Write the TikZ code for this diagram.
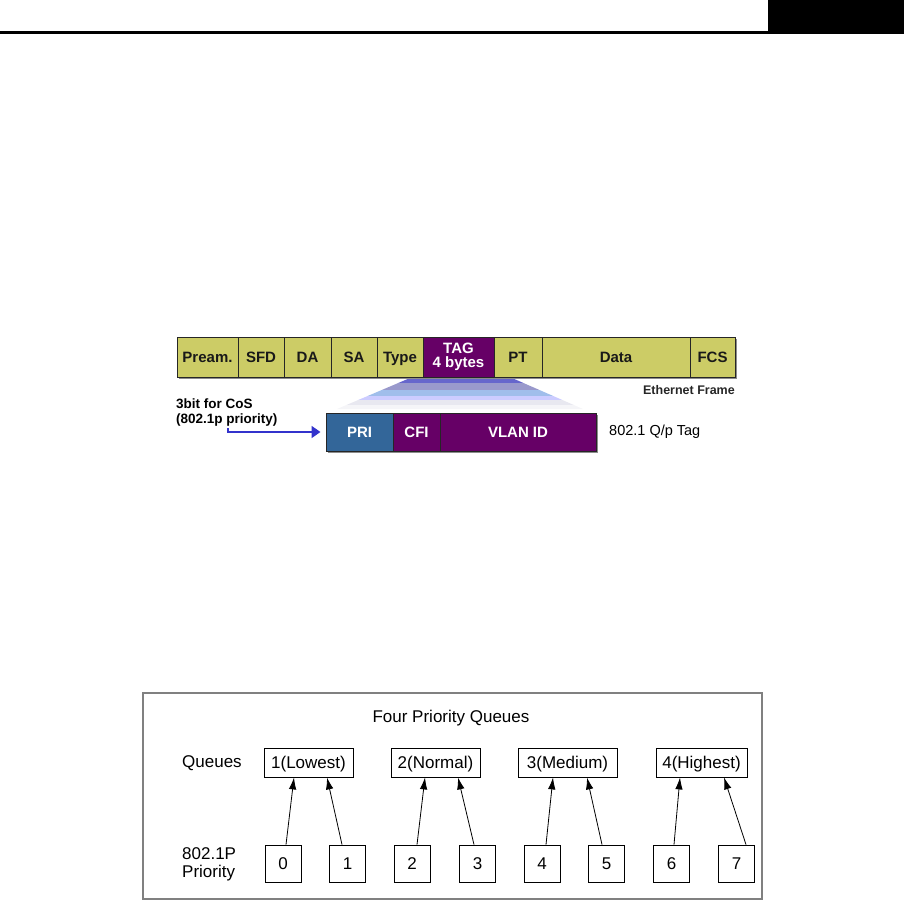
\documentclass[tikz,border=0pt]{standalone}
\usepackage{fontspec}
\setmainfont{Liberation Sans}
\usetikzlibrary{arrows.meta}
\definecolor{khaki}{HTML}{CCCC66}
\definecolor{tagpurple}{HTML}{660066}
\definecolor{priblue}{HTML}{336699}
\definecolor{arrblue}{HTML}{3333CC}
\definecolor{framegray}{HTML}{808080}
\definecolor{bandA}{RGB}{102,102,204}
\definecolor{bandB}{RGB}{153,153,204}
\definecolor{bandC}{RGB}{160,190,235}
\definecolor{bandD}{RGB}{204,204,255}
\definecolor{bandE}{RGB}{232,232,240}
\definecolor{bandF}{RGB}{245,245,248}
\tikzset{
  fbase/.style={draw=black!85, line width=1pt, fill=khaki, inner sep=0pt, text=black!90,
    font=\fontsize{15}{14}\selectfont\bfseries, minimum height=40pt, align=center},
  fbox/.style={fbase, text height=10.7pt, text depth=0pt},
  pbox/.style={fbase, fill=tagpurple, text=white},
  tbox/.style={draw=black!85, line width=1pt, fill=tagpurple, text=white, inner sep=0pt,
    font=\fontsize{15}{14}\selectfont\bfseries, minimum height=38pt, text height=10.7pt, text depth=0pt},
  qbox/.style={draw=black, line width=0.8pt, fill=white, inner sep=0pt,
    font=\fontsize{17}{20}\selectfont, minimum height=29pt, text height=12.2pt, text depth=0pt},
  nbox/.style={draw=black, line width=0.8pt, fill=white, inner sep=0pt,
    font=\fontsize{17}{20}\selectfont, minimum height=37pt, minimum width=36pt, text height=12.2pt, text depth=0pt},
  qarr/.style={-{Latex[length=12pt,width=7.5pt]}, line width=0.8pt, black},
  plain/.style={inner sep=0pt, font=\fontsize{17}{20}\selectfont},
}
\begin{document}
\begin{tikzpicture}[x=1pt,y=-1pt]
\useasboundingbox (0,0) rectangle (904,902);
% header
\fill[black] (0,31) rectangle (768,34);
\fill[black] (768,0) rectangle (904,34);

% trapezoid shading
\begin{scope}
\clip (410,378) -- (512,378) -- (583,409) -- (337,409) -- cycle;
\fill[bandA] (330,378) rectangle (600,383);
\fill[bandB] (330,383) rectangle (600,390);
\fill[bandC] (330,390) rectangle (600,396);
\fill[bandD] (330,396) rectangle (600,400);
\fill[bandE] (330,400) rectangle (600,405);
\fill[bandF] (330,405) rectangle (600,410);
\end{scope}

% shadows
\fill[black!45] (179,339) rectangle (737,379);
\fill[black!45] (328,415) rectangle (598,453);

% frame
\node[fbox, minimum width=61pt] (pream) at (207.5,357) {Pream.};
\node[fbox, minimum width=46pt] (sfd) at (261,357) {SFD};
\node[fbox, minimum width=47pt] (da) at (307.5,357) {DA};
\node[fbox, minimum width=46pt] (sa) at (354,357) {SA};
\node[fbox, minimum width=46pt] (type) at (400,357) {Type};
\node[pbox, minimum width=71pt] (tag) at (458.5,357) {TAG\\4 bytes};
\node[fbox, minimum width=48pt] (pt) at (518,357) {PT};
\node[fbox, minimum width=148pt] (data) at (616,357) {Data};
\node[fbox, minimum width=45pt] (fcs) at (712.5,357) {FCS};
\node[anchor=east, inner sep=0pt, font=\fontsize{12.5}{14}\selectfont\bfseries, text=black!85] (ef) at (735,390) {Ethernet Frame};

% tag row
\node[tbox, fill=priblue, minimum width=67pt] (pri) at (359.5,432) {PRI};
\node[tbox, minimum width=47pt] (cfi) at (416.5,432) {CFI};
\node[tbox, minimum width=156pt] (vlan) at (518,432) {VLAN ID};
\node[anchor=west, inner sep=0pt, font=\fontsize{14.5}{16}\selectfont] (qtag) at (609,432) {802.1 Q/p Tag};
\node[anchor=west, inner sep=0pt, font=\fontsize{13.5}{16}\selectfont\bfseries, align=left] (cos1) at (176,404) {3bit for CoS};
\node[anchor=west, inner sep=0pt, font=\fontsize{13.5}{16}\selectfont\bfseries, align=left] (cos2) at (176,420) {(802.1p priority)};
\coordinate (cosstart) at (228,428);
\draw[arrblue, line width=1.8pt, shorten >=5pt, -{Triangle[length=9pt,width=12pt]}] (cosstart) |- (pri.west);

% bottom diagram
\draw[framegray, line width=2pt] (143,693) rectangle (762,899);
\node[plain] (title) at (451,718) {Four Priority Queues};
\node[plain, anchor=west] (qlab) at (182,763) {Queues};
\node[plain, anchor=west, align=left, font=\fontsize{17}{18}\selectfont] (plab) at (182,864) {802.1P\\Priority};

\node[qbox, minimum width=89pt] (q1) at (308.5,762.5) {1(Lowest)};
\node[qbox, minimum width=89pt] (q2) at (435.5,762.5) {2(Normal)};
\node[qbox, minimum width=99pt] (q3) at (567.5,762.5) {3(Medium)};
\node[qbox, minimum width=91pt] (q4) at (701.5,762.5) {4(Highest)};

\node[nbox] (p0) at (283,863.5) {0};
\node[nbox] (p1) at (347.5,863.5) {1};
\node[nbox] (p2) at (412,863.5) {2};
\node[nbox] (p3) at (477.5,863.5) {3};
\node[nbox] (p4) at (542,863.5) {4};
\node[nbox] (p5) at (606.5,863.5) {5};
\node[nbox] (p6) at (671.5,863.5) {6};
\node[nbox] (p7) at (736.5,863.5) {7};

\draw[qarr] ([xshift=3pt]p0.north) -- ([xshift=-14.5pt]q1.south);
\draw[qarr] ([xshift=-5.5pt]p1.north) -- ([xshift=18.5pt]q1.south);
\draw[qarr] ([xshift=5pt]p2.north) -- ([xshift=-10.5pt]q2.south);
\draw[qarr] ([xshift=-3.5pt]p3.north) -- ([xshift=22.5pt]q2.south);
\draw[qarr] ([xshift=4pt]p4.north) -- ([xshift=-14.5pt]q3.south);
\draw[qarr] ([xshift=-4.5pt]p5.north) -- ([xshift=19.5pt]q3.south);
\draw[qarr] ([xshift=2.5pt]p6.north) -- ([xshift=-21.5pt]q4.south);
\draw[qarr] ([xshift=9.5pt]p7.north) -- ([xshift=22.5pt]q4.south);
\end{tikzpicture}
\end{document}
